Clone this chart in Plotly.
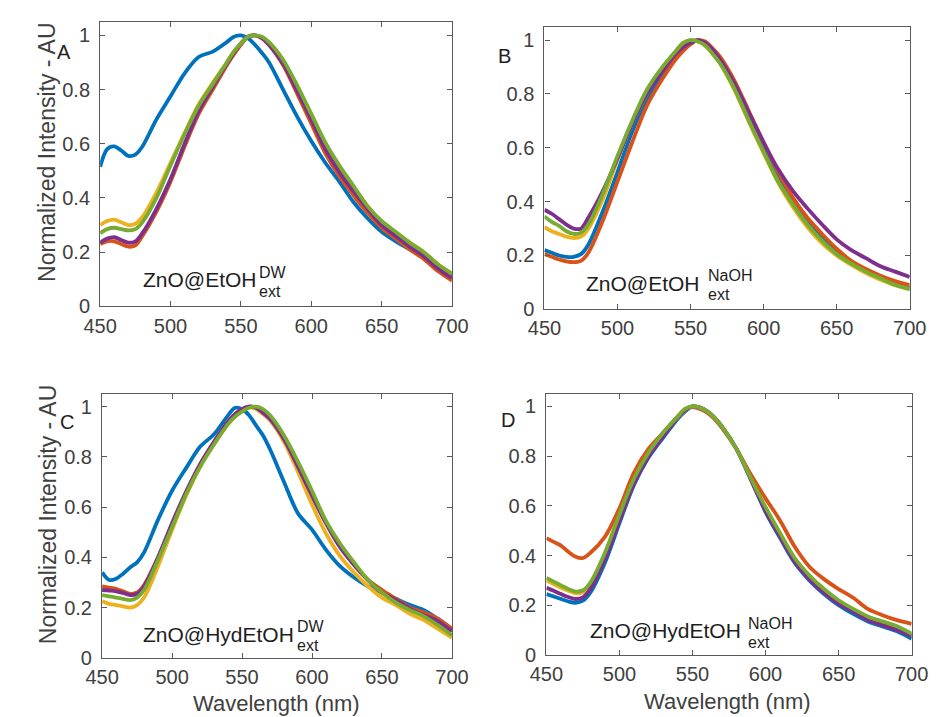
import plotly.graph_objects as go

W, H = 938, 717

wavelength = [450, 455, 460, 465, 470, 475, 480, 490, 500, 510, 520, 530, 540, 545, 550, 555,
              560, 565, 570, 580, 590, 600, 610, 620, 630, 640, 650, 660, 670, 680, 690, 700]

# Panel A: ZnO@EtOH DW ext
A_blue = [.515, .58, .59, .575, .555, .56, .59, .69, .775, .86, .92, .94, .975, .995, 1.0, .99,
          .965, .935, .90, .80, .70, .61, .53, .46, .385, .325, .275, .24, .21, .18, .14, .115]
A_orange = [.23, .24, .24, .23, .22, .225, .26, .35, .46, .59, .71, .80, .89, .93, .965, .995,
            1.0, .99, .965, .89, .785, .675, .565, .48, .41, .345, .29, .25, .21, .175, .13, .095]
A_yellow = [.30, .315, .32, .31, .30, .305, .33, .42, .53, .64, .745, .825, .90, .94, .97, .995,
            1.0, .99, .97, .905, .81, .71, .595, .515, .44, .37, .31, .27, .235, .20, .155, .12]
A_purple = [.235, .25, .255, .245, .235, .24, .27, .36, .47, .60, .72, .81, .895, .935, .97, .995,
            1.0, .99, .965, .895, .795, .69, .58, .495, .425, .36, .30, .26, .22, .185, .14, .105]
A_green = [.27, .285, .29, .285, .28, .285, .31, .40, .52, .635, .74, .82, .90, .94, .97, .995,
           1.0, .995, .975, .91, .815, .71, .605, .52, .445, .37, .315, .275, .235, .20, .155, .12]

# Panel B: ZnO@EtOH NaOH ext
B_blue = [.22, .21, .20, .195, .195, .205, .24, .365, .51, .66, .78, .87, .94, .97, .99, 1.0,
          .985, .955, .92, .83, .71, .595, .485, .40, .325, .265, .21, .175, .145, .12, .095, .08]
B_orange = [.205, .195, .185, .178, .175, .18, .21, .33, .475, .62, .755, .85, .93, .96, .985, 1.0,
            .995, .97, .94, .85, .735, .62, .51, .415, .34, .28, .225, .18, .15, .125, .105, .09]
B_yellow = [.305, .29, .28, .27, .265, .27, .30, .41, .555, .69, .80, .89, .96, .99, 1.0, .995,
            .98, .95, .915, .815, .695, .58, .47, .38, .305, .245, .20, .165, .135, .11, .09, .075]
B_purple = [.37, .355, .335, .315, .30, .30, .34, .44, .56, .69, .80, .88, .95, .975, .99, 1.0,
            .99, .965, .93, .84, .73, .62, .52, .44, .375, .315, .26, .22, .19, .16, .14, .12]
B_green = [.345, .325, .31, .29, .28, .285, .315, .43, .57, .70, .815, .895, .96, .99, 1.0, .995,
           .98, .95, .915, .82, .70, .585, .475, .39, .315, .255, .205, .17, .14, .115, .09, .075]

# Panel C: ZnO@HydEtOH DW ext
C_blue = [.34, .31, .315, .335, .36, .38, .42, .55, .665, .755, .84, .89, .965, .995, .99, .965,
          .925, .885, .83, .70, .575, .51, .43, .365, .32, .285, .26, .235, .21, .19, .155, .115]
C_orange = [.285, .28, .275, .265, .255, .26, .29, .40, .535, .66, .77, .86, .94, .97, .99, 1.0,
            .995, .98, .955, .88, .77, .65, .54, .45, .37, .31, .27, .235, .20, .18, .155, .115]
C_yellow = [.225, .215, .21, .205, .20, .21, .24, .365, .51, .645, .76, .85, .93, .96, .985, .998,
            .99, .97, .945, .86, .74, .61, .495, .405, .34, .285, .24, .21, .175, .15, .115, .08]
C_purple = [.27, .268, .265, .258, .25, .255, .285, .40, .535, .66, .77, .86, .94, .97, .99, 1.0,
            .995, .975, .95, .87, .76, .645, .535, .44, .37, .31, .26, .23, .195, .17, .145, .105]
C_green = [.25, .245, .24, .235, .23, .24, .27, .39, .52, .65, .76, .85, .93, .96, .98, .995,
           1.0, .99, .965, .885, .78, .665, .545, .455, .38, .31, .26, .22, .19, .165, .13, .09]

# Panel D: ZnO@HydEtOH NaOH ext
D_blue = [.245, .235, .225, .215, .21, .218, .25, .37, .53, .685, .795, .875, .95, .98, 1.0, .995,
          .98, .955, .92, .83, .705, .575, .47, .37, .30, .245, .20, .165, .135, .115, .095, .065]
D_orange = [.47, .455, .44, .415, .395, .39, .41, .475, .59, .735, .83, .895, .96, .99, .997, .99,
            .975, .95, .915, .83, .725, .63, .54, .435, .355, .305, .265, .23, .185, .16, .14, .125]
D_yellow = [.30, .285, .27, .258, .248, .253, .283, .405, .56, .705, .81, .89, .955, .985, 1.0, .995,
            .98, .955, .92, .83, .708, .59, .485, .385, .315, .26, .215, .18, .15, .13, .11, .08]
D_purple = [.27, .258, .245, .233, .225, .232, .265, .385, .54, .69, .80, .88, .955, .985, 1.0, .995,
            .98, .955, .92, .83, .705, .58, .475, .375, .305, .25, .205, .175, .14, .12, .10, .075]
D_green = [.31, .295, .28, .265, .255, .26, .29, .41, .565, .71, .815, .895, .96, .99, 1.0, .995,
           .98, .955, .92, .83, .71, .595, .49, .39, .32, .265, .22, .185, .155, .135, .115, .085]

x_ticks = [450, 500, 550, 600, 650, 700]
y_ticks = [0, 0.2, 0.4, 0.6, 0.8, 1]
y_ticktext = ["0", "0.2", "0.4", "0.6", "0.8", "1"]

colors = ["#0072BD", "#D95319", "#EDB120", "#7E2F8E", "#77AC30"]

panels = [
    ([A_blue, A_orange, A_yellow, A_purple, A_green], (78, 443, 14, 303)),
    ([B_blue, B_orange, B_yellow, B_purple, B_green], (539, 918, 19, 306)),
    ([C_blue, C_orange, C_yellow, C_purple, C_green], (80, 443, 392, 660)),
    ([D_blue, D_orange, D_yellow, D_purple, D_green], (541, 920, 392, 657)),
]

FONT = "Liberation Sans, Arial, sans-serif"
AXC = "#5a5a5a"
TXC = "#404040"

fig = go.Figure()
layout = {}
for i, (series, (x0, x1, y0, y1)) in enumerate(panels, start=1):
    sfx = "" if i == 1 else str(i)
    for s, c in zip(series, colors):
        fig.add_trace(go.Scatter(x=wavelength, y=s, mode="lines",
                                 line=dict(color=c, width=3.8, shape="spline", smoothing=0.9),
                                 xaxis="x" + sfx, yaxis="y" + sfx, showlegend=False,
                                 hoverinfo="skip"))
    layout["xaxis" + sfx] = dict(
        domain=[x0 / W, x1 / W], range=[450, 700], anchor="y" + sfx,
        tickvals=x_ticks, ticks="inside", ticklen=5, tickcolor=AXC, tickwidth=1,
        showline=True, linecolor=AXC, linewidth=1.3, mirror="ticks",
        showgrid=False, zeroline=False, ticklabelstandoff=1,
        tickfont=dict(family=FONT, size=20, color=TXC))
    layout["yaxis" + sfx] = dict(
        domain=[1 - y1 / H, 1 - y0 / H], range=[0, 1.05], anchor="x" + sfx,
        tickvals=y_ticks, ticktext=y_ticktext, ticks="inside", ticklen=5, tickcolor=AXC,
        tickwidth=1, showline=True, linecolor=AXC, linewidth=1.3, mirror="ticks",
        showgrid=False, zeroline=False, ticklabelstandoff=5,
        tickfont=dict(family=FONT, size=20, color=TXC))

def ann(text, px, py, size, xanchor="left", color="#1e1e1e", angle=0):
    return dict(text=text, x=px / W, y=1 - py / H, xref="paper", yref="paper",
                xanchor=xanchor, yanchor="middle", showarrow=False, textangle=angle,
                borderpad=0,
                font=dict(family=FONT, size=size, color=color))

annotations = [
    # panel letters
    ann("A", 40, 45, 20, "center"),
    ann("B", 498, 49, 20, "center"),
    ann("C", 44, 420, 20, "center"),
    ann("D", 501, 418, 20, "center"),
    # axis titles
    ann("Normalized Intensity - AU", 23, 147, 23, "center", TXC, -90),
    ann("Normalized Intensity - AU", 24, 515, 23, "center", TXC, -90),
    ann("Wavelength (nm)", 261, 706, 22, "center", TXC),
    ann("Wavelength (nm)", 729, 704, 22, "center", TXC),
    # sample labels
    ann("ZnO@EtOH", 121, 276, 21),
    ann("DW", 242, 269, 16),
    ann("ext", 242, 288, 16),
    ann("ZnO@EtOH", 581, 280, 21),
    ann("NaOH", 708, 272, 16),
    ann("ext", 708, 291, 16),
    ann("ZnO@HydEtOH", 121, 636, 21),
    ann("DW", 281, 628, 16),
    ann("ext", 281, 647, 16),
    ann("ZnO@HydEtOH", 585, 632, 21),
    ann("NaOH", 749, 625, 16),
    ann("ext", 749, 644, 16),
]

fig.update_layout(
    width=W, height=H, margin=dict(l=0, r=0, t=0, b=0),
    paper_bgcolor="white", plot_bgcolor="white",
    annotations=annotations, **layout)

fig.write_html("out.html")
